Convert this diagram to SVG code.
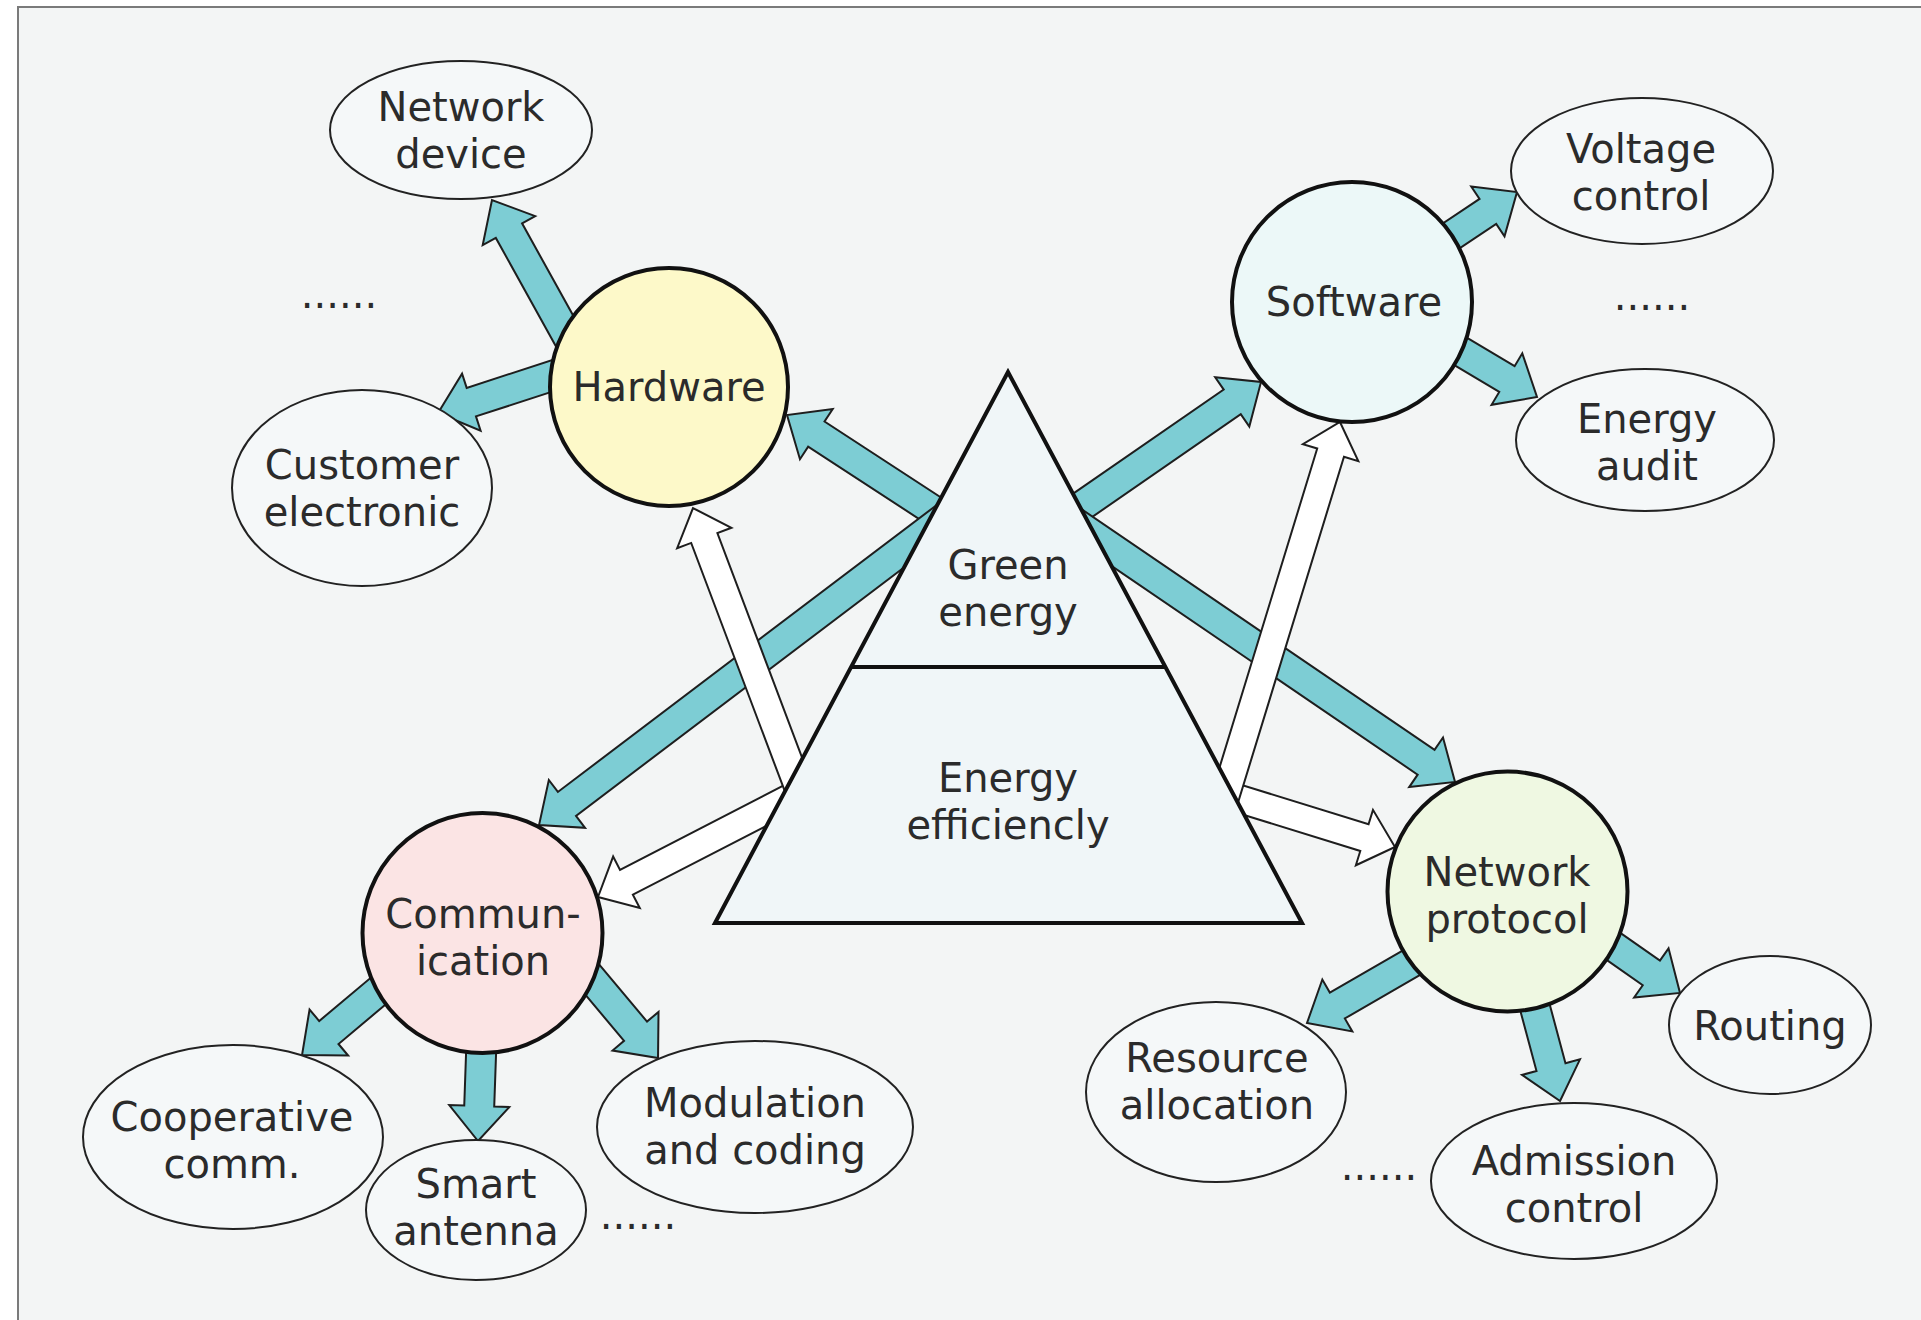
<svg xmlns="http://www.w3.org/2000/svg" width="1921" height="1320" viewBox="0 0 1921 1320">
<style>
.bg{fill:#f3f5f5;stroke:#7a7a7a;stroke-width:2}
.teal{fill:#7dcdd4;stroke:#1e1e1e;stroke-width:2;stroke-linejoin:miter}
.white{fill:#ffffff;stroke:#1e1e1e;stroke-width:2;stroke-linejoin:miter}
.tri{fill:#f0f6f8;stroke:#111;stroke-width:4;stroke-linejoin:miter}
.hub{stroke:#111;stroke-width:4}
.leaf{fill:#f5f8f9;stroke:#222;stroke-width:2}
text{font-family:"DejaVu Sans","Open Sans",sans-serif;font-size:40px;fill:#2b2b2b;text-anchor:middle}
</style>
<rect x="0" y="0" width="1921" height="1320" fill="#ffffff"/>
<rect class="bg" x="18" y="7" width="1920" height="1330"/>

<g id="connectors">
  <polygon class="teal" transform="translate(942,516) rotate(-146.9)" points="0,-15 150,-15 150,-30 185,0 150,30 150,15 0,15"/>
  <polygon class="teal" transform="translate(955,510) rotate(142.86)" points="0,-15 486.8,-15 486.8,-30 521.8,0 486.8,30 486.8,15 0,15"/>
  <polygon class="teal" transform="translate(1073,512) rotate(-34.66)" points="0,-15 193.6,-15 193.6,-30 228.6,0 193.6,30 193.6,15 0,15"/>
  <polygon class="teal" transform="translate(1062,514) rotate(34.29)" points="0,-15 440.7,-15 440.7,-30 475.7,0 440.7,30 440.7,15 0,15"/>
  <polygon class="teal" transform="translate(574.4,348.7) rotate(-119)" points="0,-15 135,-15 135,-30 170,0 135,30 135,15 0,15"/>
  <polygon class="teal" transform="translate(580.7,366.6) rotate(162)" points="0,-15 115,-15 115,-30 150,0 115,30 115,15 0,15"/>
  <polygon class="teal" transform="translate(1433.8,247.5) rotate(-33.7)" points="0,-15 65,-15 65,-30 100,0 65,30 65,15 0,15"/>
  <polygon class="teal" transform="translate(1451.1,345.8) rotate(30.8)" points="0,-15 65,-15 65,-30 100,0 65,30 65,15 0,15"/>
  <polygon class="teal" transform="translate(386.3,984.3) rotate(140)" points="0,-15 75,-15 75,-30 110,0 75,30 75,15 0,15"/>
  <polygon class="teal" transform="translate(482.2,1021.1) rotate(92)" points="0,-15 85,-15 85,-30 120,0 85,30 85,15 0,15"/>
  <polygon class="teal" transform="translate(580.9,966.1) rotate(50)" points="0,-15 85,-15 85,-30 120,0 85,30 85,15 0,15"/>
  <polygon class="teal" transform="translate(1419.6,958) rotate(150)" points="0,-15 95,-15 95,-30 130,0 95,30 95,15 0,15"/>
  <polygon class="teal" transform="translate(1526.4,975.4) rotate(75)" points="0,-15 95,-15 95,-30 130,0 95,30 95,15 0,15"/>
  <polygon class="teal" transform="translate(1589.9,929.9) rotate(35)" points="0,-15 75,-15 75,-30 110,0 75,30 75,15 0,15"/>
  <polygon class="white" transform="translate(811,787) rotate(152.69)" points="0,-14 207.7,-14 207.7,-29 239.7,0 207.7,29 207.7,14 0,14"/>
  <polygon class="white" transform="translate(809.5,817) rotate(-110.66)" points="0,-14 298.2,-14 298.2,-29 330.2,0 298.2,29 298.2,14 0,14"/>
  <polygon class="white" transform="translate(1204,788) rotate(17.17)" points="0,-14 167.9,-14 167.9,-29 199.9,0 167.9,29 167.9,14 0,14"/>
  <polygon class="white" transform="translate(1215,830) rotate(-72.97)" points="0,-14 394.7,-14 394.7,-29 426.7,0 394.7,29 394.7,14 0,14"/>
</g>

<g id="pyramid">
  <polygon class="tri" points="1008,372 715,923 1302,923"/>
  <line x1="851" y1="667" x2="1165" y2="667" stroke="#111" stroke-width="4"/>
  <text x="1008" y="579">Green<tspan x="1008" dy="47">energy</tspan></text>
  <text x="1008" y="792">Energy<tspan x="1008" dy="47">efficiencly</tspan></text>
</g>

<g id="hardware">
  <circle class="hub" cx="669" cy="387" r="119" fill="#fdf9c9"/>
  <text x="669" y="401">Hardware</text>
</g>
<g id="software">
  <circle class="hub" cx="1352" cy="302" r="120" fill="#ecf8f8"/>
  <text x="1354" y="316">Software</text>
</g>
<g id="communication">
  <circle class="hub" cx="482.5" cy="933" r="120" fill="#fbe4e4"/>
  <text x="483" y="928">Commun-<tspan x="483" dy="47">ication</tspan></text>
</g>
<g id="network-protocol">
  <circle class="hub" cx="1507.5" cy="891.5" r="120" fill="#eff8e2"/>
  <text x="1507" y="886">Network<tspan x="1507" dy="47">protocol</tspan></text>
</g>

<g id="network-device">
  <ellipse class="leaf" cx="461" cy="130" rx="131" ry="69"/>
  <text x="461" y="121">Network<tspan x="461" dy="47">device</tspan></text>
</g>
<g id="customer-electronic">
  <ellipse class="leaf" cx="362" cy="488" rx="130" ry="98"/>
  <text x="362" y="479">Customer<tspan x="362" dy="47">electronic</tspan></text>
</g>
<g id="hardware-more">
  <text x="339" y="308">......</text>
</g>
<g id="voltage-control">
  <ellipse class="leaf" cx="1642" cy="171" rx="131" ry="73"/>
  <text x="1641" y="163">Voltage<tspan x="1641" dy="47">control</tspan></text>
</g>
<g id="energy-audit">
  <ellipse class="leaf" cx="1645" cy="440" rx="129" ry="71"/>
  <text x="1647" y="433">Energy<tspan x="1647" dy="47">audit</tspan></text>
</g>
<g id="software-more">
  <text x="1652" y="310">......</text>
</g>
<g id="cooperative-comm">
  <ellipse class="leaf" cx="233" cy="1137" rx="150" ry="92"/>
  <text x="232" y="1131">Cooperative<tspan x="232" dy="47">comm.</tspan></text>
</g>
<g id="smart-antenna">
  <ellipse class="leaf" cx="476" cy="1210" rx="110" ry="70"/>
  <text x="476" y="1198">Smart<tspan x="476" dy="47">antenna</tspan></text>
</g>
<g id="communication-more">
  <text x="638" y="1229">......</text>
</g>
<g id="modulation-coding">
  <ellipse class="leaf" cx="755" cy="1127" rx="158" ry="86"/>
  <text x="755" y="1117">Modulation<tspan x="755" dy="47">and coding</tspan></text>
</g>
<g id="resource-allocation">
  <ellipse class="leaf" cx="1216" cy="1092" rx="130" ry="90"/>
  <text x="1217" y="1072">Resource<tspan x="1217" dy="47">allocation</tspan></text>
</g>
<g id="admission-control">
  <ellipse class="leaf" cx="1574" cy="1181" rx="143" ry="78"/>
  <text x="1574" y="1175">Admission<tspan x="1574" dy="47">control</tspan></text>
</g>
<g id="routing">
  <ellipse class="leaf" cx="1770" cy="1025" rx="101" ry="69"/>
  <text x="1770" y="1040">Routing</text>
</g>
<g id="protocol-more">
  <text x="1379" y="1180">......</text>
</g>
</svg>
